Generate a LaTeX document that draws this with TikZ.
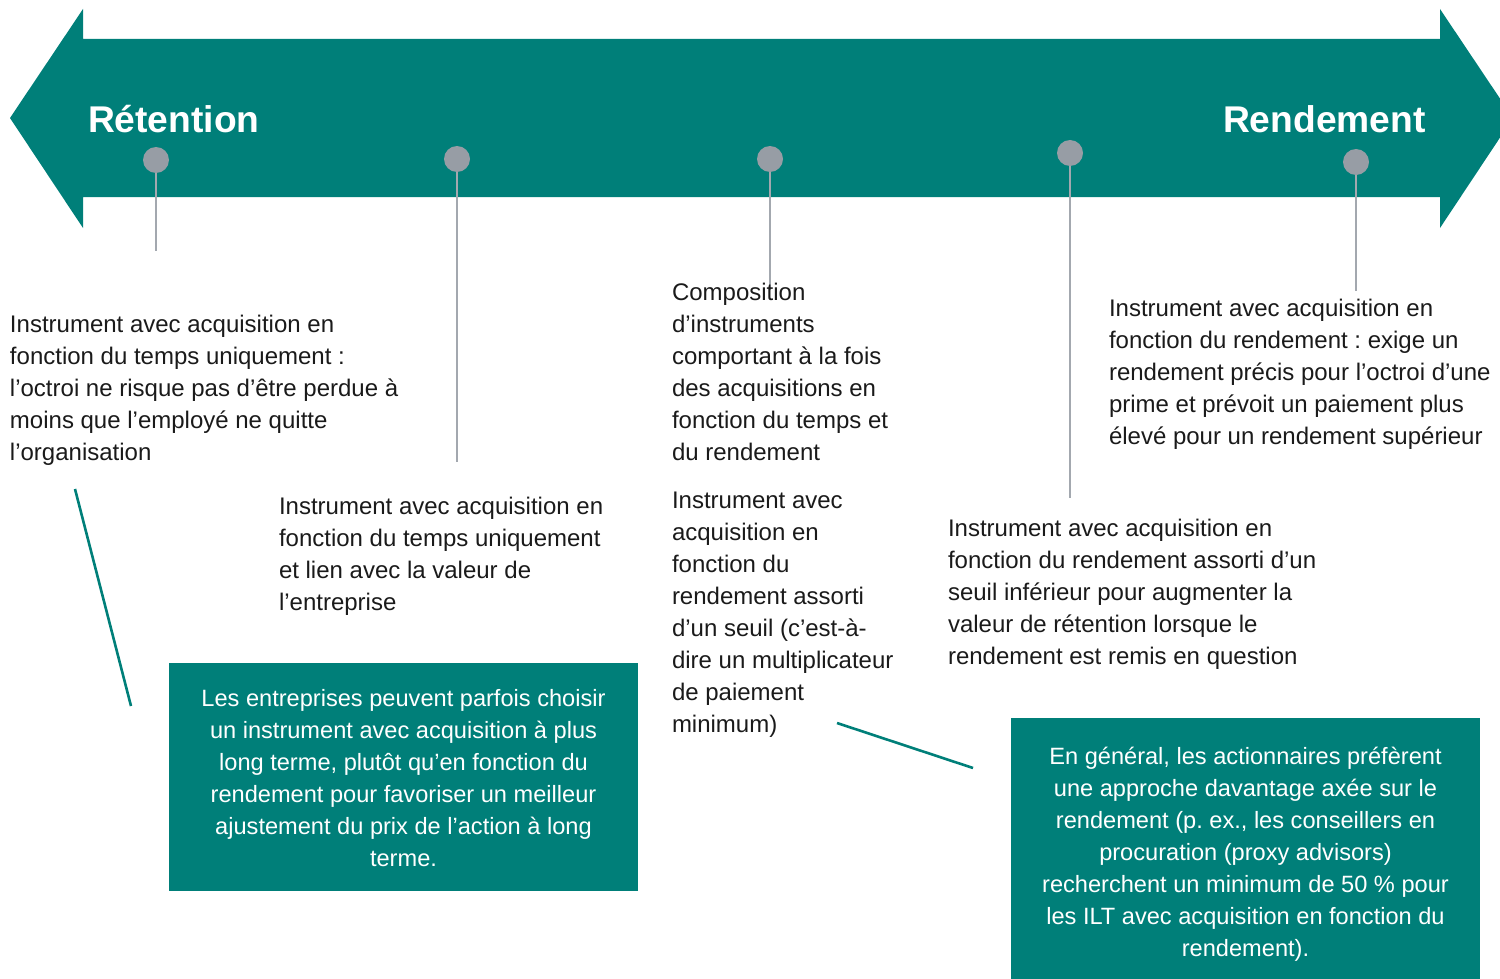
\documentclass[tikz,border=0pt]{standalone}
\usepackage{fontspec}
\setmainfont{Liberation Sans}
\definecolor{teal}{HTML}{007F79}
\definecolor{dotgray}{HTML}{979DA5}
\definecolor{stemgray}{HTML}{A3A8AF}
\definecolor{ink}{HTML}{1A1A1A}
\frenchspacing
\begin{document}
\begin{tikzpicture}[x=0.5pt,y=-0.5pt,
  every node/.style={inner sep=0pt, outer sep=0pt},
  title/.style={text=white, font=\fontsize{18.6}{22}\selectfont\bfseries, anchor=base west},
  marker/.style={circle, fill=dotgray, minimum size=13pt},
  stem/.style={draw=stemgray, line width=0.8pt},
  desc/.style={text=ink, font=\fontsize{12}{16}\selectfont, align=left, anchor=base west},
  notebox/.style={fill=teal},
  notetext/.style={text=white, font=\fontsize{11.8}{16}\selectfont, align=center, anchor=base},
  link/.style={draw=teal, line width=1.3pt}]
\useasboundingbox (0,0) rectangle (1500,979);
\clip (0,0) rectangle (1500,979);

% double-headed band
\fill[teal] (10,118) -- (83,9) -- (83,39) -- (1440,39) -- (1440,9) -- (1513,118)
  -- (1440,228) -- (1440,197) -- (83,197) -- (83,228) -- cycle;
\node[title] (ret) at (88,133) {Rétention};
\node[title] (ren) at (1223,133) {Rendement};

% markers and their stems
\node[marker] (m1) at (156,160) {};
\node[marker] (m2) at (457,159) {};
\node[marker] (m3) at (770,159) {};
\node[marker] (m4) at (1070,153) {};
\node[marker] (m5) at (1356,162) {};
\coordinate (s1) at (156,251);
\coordinate (s2) at (457,462);
\coordinate (s3) at (770,290);
\coordinate (s4) at (1070,498);
\coordinate (s5) at (1356,291);
\draw[stem] (m1.south) -- (s1);
\draw[stem] (m2.south) -- (s2);
\draw[stem] (m3.south) -- (s3);
\draw[stem] (m4.south) -- (s4);
\draw[stem] (m5.south) -- (s5);

% descriptions (placed by the baseline of their last line)
\node[desc] (d1) at (10,460) {Instrument avec acquisition en\\fonction du temps uniquement :\\l’octroi ne risque pas d’être perdue à\\moins que l’employé ne quitte\\l’organisation};
\node[desc] (d2) at (279,610) {Instrument avec acquisition en\\fonction du temps uniquement\\et lien avec la valeur de\\l’entreprise};
\node[desc] (d3) at (672,460) {Composition\\d’instruments\\comportant à la fois\\des acquisitions en\\fonction du temps et\\du rendement};
\node[desc] (d4) at (672,732) {Instrument avec\\acquisition en\\fonction du\\rendement assorti\\d’un seuil (c’est-à-\\dire un multiplicateur\\de paiement\\minimum)};
\node[desc] (d5) at (1109,444) {Instrument avec acquisition en\\fonction du rendement : exige un\\rendement précis pour l’octroi d’une\\prime et prévoit un paiement plus\\élevé pour un rendement supérieur};
\node[desc] (d6) at (948,664) {Instrument avec acquisition en\\fonction du rendement assorti d’un\\seuil inférieur pour augmenter la\\valeur de rétention lorsque le\\rendement est remis en question};

% notes
\fill[notebox] (169,663) rectangle (638,891);
\node[notetext] (na) at (403.5,866) {Les entreprises peuvent parfois choisir\\un instrument avec acquisition à plus\\long terme, plutôt qu’en fonction du\\rendement pour favoriser un meilleur\\ajustement du prix de l’action à long\\terme.};
\fill[notebox] (1011,718) rectangle (1480,990);
\node[notetext] (nb) at (1245.5,956) {En général, les actionnaires préfèrent\\une approche davantage axée sur le\\rendement (p. ex., les conseillers en\\procuration (proxy advisors)\\recherchent un minimum de 50 \% pour\\les ILT avec acquisition en fonction du\\rendement).};

% links to the notes
\coordinate (la1) at (75,489);
\coordinate (la2) at (131,706);
\coordinate (lb1) at (837,723);
\coordinate (lb2) at (973,768);
\draw[link] (la1) -- (la2);
\draw[link] (lb1) -- (lb2);
\end{tikzpicture}
\end{document}
